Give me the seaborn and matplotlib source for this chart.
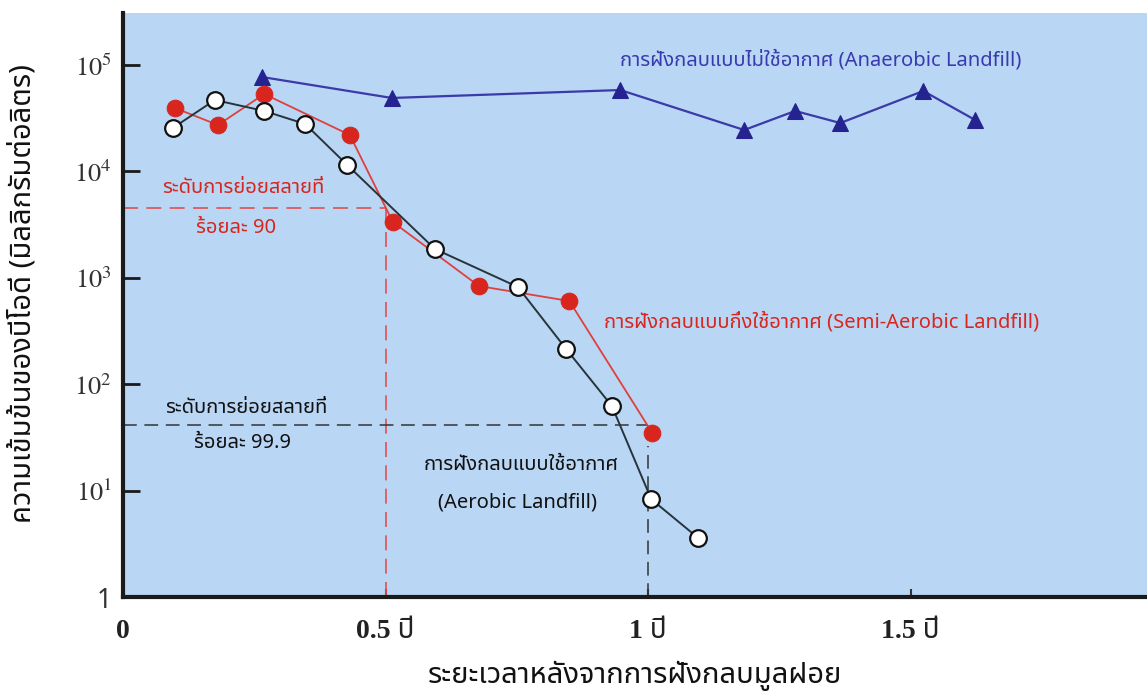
import matplotlib
matplotlib.use("Agg")
import matplotlib.pyplot as plt
import seaborn as sns
import pandas as pd

# === Data (years, BOD mg/L) ===
aerobic_t = [0.095, 0.175, 0.269, 0.347, 0.427, 0.594, 0.752, 0.844, 0.931, 1.006, 1.095]
aerobic_bod = [25600, 46900, 37000, 27900, 11500, 1865, 820, 214, 62.4, 8.3, 3.6]

semi_t = [0.099, 0.181, 0.269, 0.432, 0.514, 0.678, 0.850, 1.008]
semi_bod = [39400, 27300, 53400, 22000, 3340, 837, 605, 34.8]

anaerobic_t = [0.265, 0.512, 0.947, 1.183, 1.280, 1.366, 1.524, 1.623]
anaerobic_bod = [77100, 49000, 58200, 24500, 37000, 28500, 57000, 30400]

# degradation reference levels
level90_t, level90_bod = 0.5, 4530
level999_t, level999_bod = 1.0, 41

x_ticks = [0, 0.5, 1, 1.5]
x_ticklabels = ["0", "0.5 ปี", "1 ปี", "1.5 ปี"]
y_ticks = [1, 10, 100, 1000, 10000, 100000]
y_ticklabels = ["1", "$10^{1}$", "$10^{2}$", "$10^{3}$", "$10^{4}$", "$10^{5}$"]

THAI = ["Noto Sans Thai", "IBM Plex Sans Thai", "DejaVu Sans"]
SERIF_THAI = ["Liberation Serif", "Noto Sans Thai", "IBM Plex Sans Thai", "DejaVu Serif"]

sns.set_theme(style="ticks")
plt.rcParams["font.family"] = THAI
plt.rcParams["mathtext.fontset"] = "stix"

BG = "#b9d6f4"
RED = "#d8261f"
NAVY = "#24238f"
DARK = "#27343a"

fig = plt.figure(figsize=(11.47, 6.93), dpi=100)
ax = fig.add_axes([0.1072, 0.1385, 0.8928, 0.8427])
ax.set_facecolor(BG)

df_a = pd.DataFrame({"t": aerobic_t, "bod": aerobic_bod})
df_s = pd.DataFrame({"t": semi_t, "bod": semi_bod})
df_n = pd.DataFrame({"t": anaerobic_t, "bod": anaerobic_bod})

sns.lineplot(data=df_n, x="t", y="bod", ax=ax, sort=False, color="#3a3aa8", lw=1.6,
             marker="^", markersize=11, markerfacecolor=NAVY, markeredgecolor=NAVY, zorder=3)
sns.lineplot(data=df_s, x="t", y="bod", ax=ax, sort=False, color="#e0403c", lw=1.3,
             marker="o", markersize=12, markerfacecolor=RED, markeredgecolor=RED, zorder=3)
sns.lineplot(data=df_a, x="t", y="bod", ax=ax, sort=False, color=DARK, lw=1.4,
             marker="o", markersize=12, markerfacecolor="white", markeredgecolor="#111111",
             markeredgewidth=1.6, zorder=4)

ax.set_yscale("log")
ax.set_xlim(0, 1.95)
ax.set_ylim(1, 3.08e5)

# reference dashed lines
ax.plot([0, level90_t], [level90_bod, level90_bod], color="#e05050", lw=1.2, ls=(0, (9, 5)), zorder=2)
ax.plot([level90_t, level90_t], [1, level90_bod], color="#e05050", lw=1.2, ls=(0, (9, 5)), zorder=2)
ax.plot([0, level999_t], [level999_bod, level999_bod], color="#333333", lw=1.1, ls=(0, (9, 5)), zorder=2)
ax.plot([level999_t, level999_t], [1, 26], color="#333333", lw=1.1, ls=(0, (9, 5)), zorder=2)

# annotations
FS = 14.5
ax.text(0.230, 6980, "ระดับการย่อยสลายที่", color=RED, fontsize=FS, ha="center", va="center")
ax.text(0.215, 2940, "ร้อยละ 90", color=RED, fontsize=FS, ha="center", va="center")
ax.text(0.234, 59.7, "ระดับการย่อยสลายที่", color="#111111", fontsize=FS, ha="center", va="center")
ax.text(0.227, 28.0, "ร้อยละ 99.9", color="#111111", fontsize=FS, ha="center", va="center")
ax.text(0.947, 111000, "การฝังกลบแบบไม่ใช้อากาศ (Anaerobic Landfill)", color="#3a3ab0",
        fontsize=FS, ha="left", va="center")
ax.text(0.916, 384, "การฝังกลบแบบกึ่งใช้อากาศ (Semi-Aerobic Landfill)", color=RED,
        fontsize=FS, ha="left", va="center")
ax.text(0.758, 17.4, "การฝังกลบแบบใช้อากาศ", color="#111111", fontsize=FS, ha="center", va="center")
ax.text(0.752, 7.8, "(Aerobic Landfill)", color="#111111", fontsize=FS, ha="center", va="center")

# axes styling
for side in ["top", "right"]:
    ax.spines[side].set_visible(False)
for side in ["left", "bottom"]:
    ax.spines[side].set_linewidth(3)
    ax.spines[side].set_color("#1a1a1a")

ax.set_yticks(y_ticks)
ax.set_yticklabels(y_ticklabels)
ax.minorticks_off()
ax.set_xticks(x_ticks)
ax.set_xticklabels(x_ticklabels)
ax.tick_params(axis="y", direction="in", length=12, width=2, color="#1a1a1a", pad=8,
               labelsize=19, labelcolor="#333333")
ax.tick_params(axis="x", direction="in", length=6, width=1.5, color="#333333", pad=16,
               labelsize=20, labelcolor="#222222")
for lab in ax.get_xticklabels():
    lab.set_family(SERIF_THAI)
    lab.set_fontweight("bold")

ax.set_xlabel("ระยะเวลาหลังจากการฝังกลบมูลฝอย", fontsize=21, color="#111111", labelpad=12)
ax.set_ylabel("ความเข้มข้นของบีโอดี (มิลลิกรัมต่อลิตร)", fontsize=21, fontweight="bold",
              color="#111111")
ax.yaxis.set_label_coords(-0.083, 0.52)

fig.savefig("out.png", dpi=100)
